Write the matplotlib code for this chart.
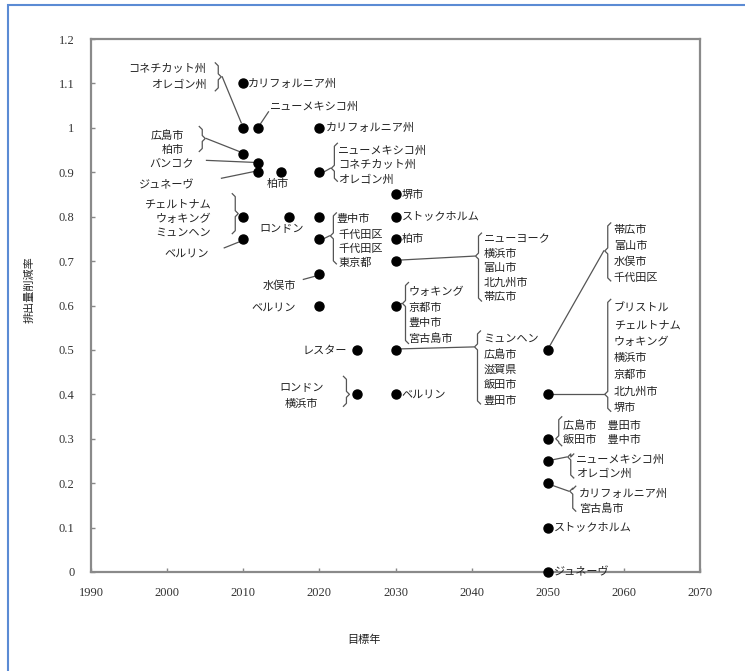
import numpy as np
import matplotlib.pyplot as plt
from matplotlib.patches import Rectangle
from matplotlib.transforms import IdentityTransform

plt.rcParams['font.family'] = ['Noto Sans CJK JP', 'DejaVu Sans']

# target year, reduction rate and the cities/regions for each point
target_year = [2010, 2010, 2012, 2020, 2010, 2012, 2012, 2015, 2020, 2030,
               2010, 2016, 2020, 2030, 2010, 2020, 2030, 2030, 2020, 2020,
               2030, 2025, 2030, 2025, 2030, 2050, 2050, 2050, 2050, 2050,
               2050, 2050]
reduction = [1.10, 1.00, 1.00, 1.00, 0.94, 0.92, 0.90, 0.90, 0.90, 0.85,
             0.80, 0.80, 0.80, 0.80, 0.75, 0.75, 0.75, 0.70, 0.67, 0.60,
             0.60, 0.50, 0.50, 0.40, 0.40, 0.50, 0.40, 0.30, 0.25, 0.20,
             0.10, 0.00]
city_labels = [
    ['カリフォルニア州'],
    ['コネチカット州', 'オレゴン州'],
    ['ニューメキシコ州'],
    ['カリフォルニア州'],
    ['広島市', '柏市'],
    ['バンコク'],
    ['ジュネーヴ'],
    ['柏市'],
    ['ニューメキシコ州', 'コネチカット州', 'オレゴン州'],
    ['堺市'],
    ['チェルトナム', 'ウォキング', 'ミュンヘン'],
    ['ロンドン'],
    ['豊中市'],
    ['ストックホルム'],
    ['ベルリン'],
    ['千代田区', '千代田区', '東京都'],
    ['柏市'],
    ['ニューヨーク', '横浜市', '富山市', '北九州市', '帯広市'],
    ['水俣市'],
    ['ベルリン'],
    ['ウォキング', '京都市', '豊中市', '宮古島市'],
    ['レスター'],
    ['ミュンヘン', '広島市', '滋賀県', '飯田市', '豊田市'],
    ['ロンドン', '横浜市'],
    ['ベルリン'],
    ['帯広市', '富山市', '水俣市', '千代田区'],
    ['ブリストル', 'チェルトナム', 'ウォキング', '横浜市', '京都市', '北九州市', '堺市'],
    ['広島市　豊田市', '飯田市　豊中市'],
    ['ニューメキシコ州', 'オレゴン州'],
    ['カリフォルニア州', '宮古島市'],
    ['ストックホルム'],
    ['ジュネーヴ'],
]

x_ticks = [1990, 2000, 2010, 2020, 2030, 2040, 2050, 2060, 2070]
y_ticks = [0, 0.1, 0.2, 0.3, 0.4, 0.5, 0.6, 0.7, 0.8, 0.9, 1.0, 1.1, 1.2]

# label placement, in pixel offsets from the point (x right, y down):
# text anchor, alignment, line spacing, bracket (side, x, top, bottom, tip), leader line
layout = [
    dict(t=(5, 0), ha='left'),
    dict(t=(-37, -51), ha='right', sp=16, br=('}', -25, -65, -37, -51), ld=[(-21, -51), (-2, -5)]),
    dict(t=(11, -21), ha='left', ld=[(2, -4), (10, -16)]),
    dict(t=(6, 0), ha='left'),
    dict(t=(-59, -12), ha='right', br=('}', -41, -28, -3, -16), ld=[(-37, -16), (-4, -3)]),
    dict(t=(-65, 0), ha='right', ld=[(-52, -3), (-5, -1)]),
    dict(t=(-64, 13), ha='right', ld=[(-37, 6), (-3, -1)]),
    dict(t=(-4, 12), ha='center'),
    dict(t=(19, -7), ha='left', br=('{', 15, -29, 9, -4), ld=[(4, 0), (11, -4)]),
    dict(t=(6, 0), ha='left'),
    dict(t=(-32, 2), ha='right', br=('}', -8, -23, 17, -3)),
    dict(t=(-7, 12), ha='center'),
    dict(t=(17, 2), ha='left'),
    dict(t=(6, 0), ha='left'),
    dict(t=(-34, 15), ha='right', ld=[(-19, 9), (-4, 3)]),
    dict(t=(19, 10), ha='left', sp=13.5, br=('{', 14, -26, 25, -3), ld=[(4, 0), (10, -3)]),
    dict(t=(6, 0), ha='left'),
    dict(t=(88, 7), ha='left', br=('{', 83, -28, 40, -5), ld=[(4, -1), (79, -5)]),
    dict(t=(-23, 11), ha='right', ld=[(-16, 5), (-5, 2)]),
    dict(t=(-23, 2), ha='right'),
    dict(t=(13, 10), ha='left', sp=15.5, br=('{', 10, -23, 38, -2), ld=[(4, 0), (6, -2)]),
    dict(t=(-10, 1), ha='right'),
    dict(t=(88, 20), ha='left', sp=15.5, br=('{', 82, -19, 54, -3), ld=[(4, -1), (78, -3)]),
    dict(t=(-56, 2), ha='center', sp=16, br=('}', -11, -18, 12, 0)),
    dict(t=(6, 0), ha='left'),
    dict(t=(66, -96), ha='left', sp=16, br=('{', 60, -127, -69, -99), ld=[(2, -4), (56, -99)]),
    dict(t=(66, -36), ha='left', sp=16.5, br=('{', 60, -95, 17, 0), ld=[(4, 0), (56, 0)]),
    dict(t=(15, -6), ha='left', sp=14, br=('{', 11, -22, 7, 0)),
    dict(t=(28, 6), ha='left', sp=14, br=('{', 23, -7, 17, -4), ld=[(4, -1), (19, -4)]),
    dict(t=(31, 18), ha='left', sp=15, br=('{', 25, 3, 28, 8), ld=[(4, 2), (21, 8)]),
    dict(t=(6, 0), ha='left'),
    dict(t=(6, 0), ha='left'),
]

W, H = 745, 671
fig = plt.figure(figsize=(W / 100, H / 100), dpi=100)
ax = fig.add_axes([91 / W, 1 - 572 / H, 609 / W, 533 / H])

ax.plot(target_year, reduction, 'o', color='black', ms=6.5, zorder=5, clip_on=False)

ax.set_xlim(1990, 2070)
ax.set_ylim(0, 1.2)
ax.set_xticks(x_ticks)
ax.set_yticks(y_ticks)
ax.set_xticklabels([str(v) for v in x_ticks])
ax.set_yticklabels(['%g' % v for v in y_ticks])
for lab in ax.get_xticklabels() + ax.get_yticklabels():
    lab.set_fontfamily('Liberation Serif')
    lab.set_fontsize(9)
    lab.set_color('#333333')
ax.tick_params(direction='in', length=3, color='#888888', width=1)
ax.tick_params(axis='x', pad=11)
ax.tick_params(axis='y', pad=12)
for s in ax.spines.values():
    s.set_color('#8a8a8a')
    s.set_linewidth(1.6)

ident = IdentityTransform()
line_kw = dict(color='#555555', lw=0.9, transform=ident, clip_on=False, zorder=3)
text_kw = dict(fontsize=8, color='#222222', transform=ident, va='center', zorder=4)


def base(i):
    return ax.transData.transform((target_year[i], reduction[i]))


def brace(x0, y_top, y_bot, y_tip, side):
    # curly bracket in display pixels; side '{' points left, '}' points right
    d = -3 if side == '{' else 3
    xs = [x0 - d, x0, x0, x0 + d, x0, x0, x0 - d]
    ys = [y_top, y_top - 3, y_tip + 3, y_tip, y_tip - 3, y_bot + 3, y_bot]
    ax.plot(xs, ys, **line_kw)


for i, lines in enumerate(city_labels):
    px, py = base(i)
    lay = layout[i]
    tx, ty = lay['t']
    sp = lay.get('sp', 14.5)
    n = len(lines)
    for k, s in enumerate(lines):
        off = (k - (n - 1) / 2) * sp
        ax.text(px + tx, py - ty - off, s, ha=lay['ha'], **text_kw)
    if 'br' in lay:
        side, bx, b0, b1, bt = lay['br']
        brace(px + bx, py - b0, py - b1, py - bt, side)
    if 'ld' in lay:
        (x1, y1), (x2, y2) = lay['ld']
        ax.plot([px + x1, px + x2], [py - y1, py - y2], **line_kw)

fig.text(30 / W, 1 - 290 / H, '排出量削減率', rotation=90, ha='center', va='center',
         fontsize=8, color='#222222')
fig.text(364 / W, 1 - 640 / H, '目標年', ha='center', va='center',
         fontsize=8, color='#222222')

fig.add_artist(Rectangle((8 / W, -0.1), 1.2, 1 - 5 / H + 0.1, transform=fig.transFigure,
                         fill=False, edgecolor='#5b8bd4', lw=1.5))

fig.savefig('out.png', dpi=100)
